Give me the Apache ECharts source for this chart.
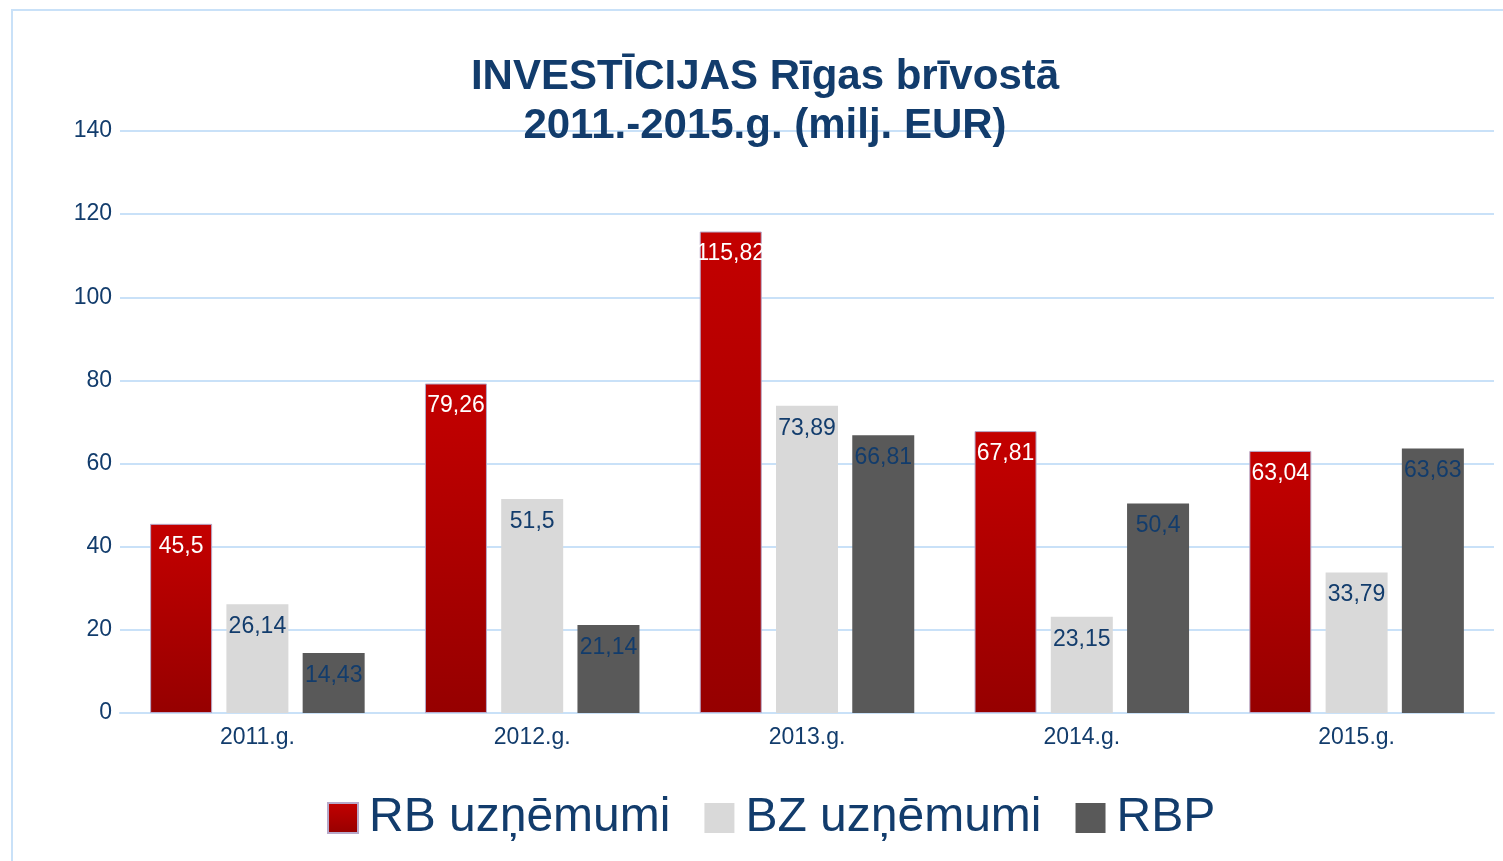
<!DOCTYPE html>
<html>
<head>
<meta charset="utf-8">
<script src="https://cdn.jsdelivr.net/npm/echarts@6/dist/echarts.min.js"></script>
<style>
  html, body { margin: 0; padding: 0; background: #fff; }
  #main { width: 1503px; height: 861px; }
</style>
</head>
<body>
<div id="main"></div>
<script>
var years = ['2011.g.', '2012.g.', '2013.g.', '2014.g.', '2015.g.'];
var rbValues = [45.5, 79.26, 115.82, 67.81, 63.04];
var bzValues = [26.14, 51.5, 73.89, 23.15, 33.79];
var rbpValues = [14.43, 21.14, 66.81, 50.4, 63.63];
var seriesNames = ['RB uzņēmumi', 'BZ uzņēmumi', 'RBP'];

var navy = '#123C6C';
var gridBlue = '#C9E1F8';
var font = 'Liberation Sans, Arial, sans-serif';

var myChart = echarts.init(document.getElementById('main'));

// decimal comma like in the original
function fmt(p) {
  return String(p.value).replace('.', ',');
}

function barLabel(color) {
  return {
    show: true,
    position: 'insideTop',
    distance: 11,
    color: color,
    fontSize: 23,
    fontFamily: font,
    formatter: fmt
  };
}

var option = {
  backgroundColor: '#fff',
  animation: false,
  graphic: [{
    type: 'rect',
    shape: { x: 12, y: 10, width: 1500, height: 870 },
    style: { fill: 'none', stroke: gridBlue, lineWidth: 2 },
    silent: true,
    z: -1
  }],
  title: {
    text: 'INVESTĪCIJAS Rīgas brīvostā\n2011.-2015.g. (milj. EUR)',
    left: 760,
    top: 48,
    textAlign: 'center',
    textStyle: {
      color: navy,
      fontSize: 42,
      fontWeight: 'bold',
      fontFamily: font,
      lineHeight: 49
    }
  },
  legend: {
    bottom: 14,
    left: 322,
    itemWidth: 30,
    itemHeight: 30,
    itemGap: 34,
    icon: 'rect',
    textStyle: { color: navy, fontSize: 48, fontFamily: font, padding: [0, 0, 0, 6] },
    data: seriesNames
  },
  grid: {
    left: 120,
    right: 9,
    top: 131,
    bottom: 148,
    containLabel: false
  },
  xAxis: {
    type: 'category',
    data: years,
    axisLine: { lineStyle: { color: gridBlue, width: 2 } },
    axisTick: { show: false },
    axisLabel: { color: navy, fontSize: 23, fontFamily: font, margin: 13 }
  },
  yAxis: {
    type: 'value',
    min: 0,
    max: 140,
    interval: 20,
    axisLine: { show: false },
    axisTick: { show: false },
    splitLine: { lineStyle: { color: gridBlue, width: 2 } },
    axisLabel: { color: navy, fontSize: 23, fontFamily: font, margin: 8 }
  },
  series: [{
    name: seriesNames[0],
    type: 'bar',
    data: rbValues,
    barWidth: 62,
    barGap: '23%',
    itemStyle: {
      color: new echarts.graphic.LinearGradient(0, 0, 0, 1, [
        { offset: 0, color: '#C40000' },
        { offset: 1, color: '#960000' }
      ]),
      borderColor: '#B7A9C9',
      borderWidth: 1
    },
    label: barLabel('#ffffff')
  }, {
    name: seriesNames[1],
    type: 'bar',
    data: bzValues,
    barWidth: 62,
    barGap: '23%',
    itemStyle: { color: '#D9D9D9' },
    label: barLabel(navy)
  }, {
    name: seriesNames[2],
    type: 'bar',
    data: rbpValues,
    barWidth: 62,
    barGap: '23%',
    itemStyle: { color: '#595959' },
    label: barLabel(navy)
  }]
};

myChart.setOption(option);
</script>
</body>
</html>
